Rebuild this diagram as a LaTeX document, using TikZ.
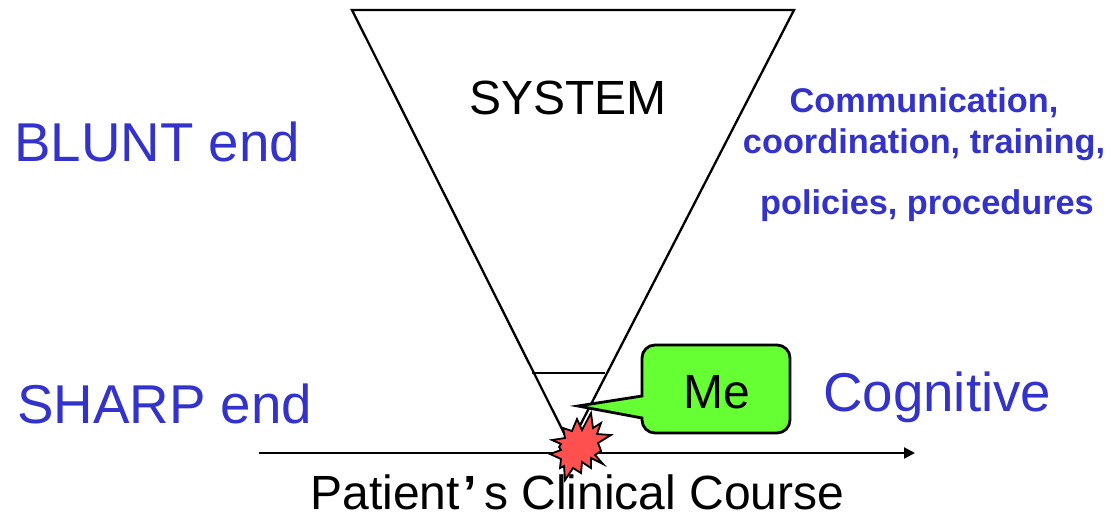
\documentclass[tikz,border=0pt]{standalone}
\usetikzlibrary{arrows.meta}
\usepackage{fontspec}
\setmainfont{Liberation Sans}
\definecolor{txtblue}{HTML}{3333CC}
\definecolor{megreen}{HTML}{66FF33}
\definecolor{starred}{HTML}{FF5050}
\tikzset{
  bluelabel/.style={text=txtblue,inner sep=0pt,font=\fontsize{54.7}{60}\selectfont},
  boldlabel/.style={text=txtblue,inner sep=0pt,font=\fontsize{34.3}{38}\bfseries\selectfont},
  blacklabel/.style={text=black,inner sep=0pt,font=\fontsize{48}{54}\selectfont},
  outline/.style={draw=black,line width=2.3pt,line join=miter},
}
\begin{document}
\begin{tikzpicture}[x=1pt,y=-1pt]
\useasboundingbox (0,0) rectangle (1107,512);
\fill[white] (0,0) rectangle (1107,512);
\coordinate (axisL) at (259,453);
\coordinate (axisR) at (915,453);
\coordinate (tl) at (352,10);
\coordinate (tr) at (794,10);
\coordinate (apex) at (570,445);
\coordinate (sl) at (532,373);
\coordinate (sr) at (605,373);
\draw[outline] (tl) -- (tr) -- (apex) -- cycle;
\draw[outline] (sl) -- (sr);
\draw[line width=2.3pt,-{Triangle[length=11pt,width=11pt]}] (axisL) -- (axisR);
\node[blacklabel,anchor=base] (pc) at (577.5,509) {Patient\hspace{4pt}{\bfseries ’}\hspace{7pt}s Clinical Course};
% callout
\draw[outline,line width=2.8pt,fill=megreen]
  (578,406) -- (642,396) [rounded corners=13pt] -- (642,345) -- (790,345) -- (790,433) -- (642,433) [sharp corners] -- (642,418) -- cycle;
% burst
\draw[draw=black,line width=1.8pt,fill=starred,line join=miter]
  (577,419) -- (582,430) -- (591,413) -- (593,428) -- (601,423) -- (597,434) -- (611,435)
  -- (598,443) -- (600,448) -- (601,451) -- (595,455) -- (603,464) -- (591,458) -- (591,468)
  -- (582,462) -- (581,473) -- (573,468) -- (565,480) -- (564,466) -- (560,468) -- (561,459)
  -- (550,454) -- (561,450) -- (559,447) -- (561,444) -- (552,440) -- (565,438) -- (563,428)
  -- (572,431) -- cycle;
\node[blacklabel,anchor=base] (sys) at (568,114) {SYSTEM};
\node[blacklabel,anchor=base] (me) at (717,408) {Me};
\node[bluelabel,anchor=base west] (blunt) at (14,161) {BLUNT end};
\node[bluelabel,anchor=base west] (sharp) at (17,423) {SHARP end};
\node[bluelabel,anchor=base west] (cog) at (823,411) {Cognitive};
\node[boldlabel,anchor=base] (c1) at (924,112) {Communication,};
\node[boldlabel,anchor=base] (c2) at (924,153) {coordination, training,};
\node[boldlabel,anchor=base] (c3) at (927,214) {policies, procedures};
\end{tikzpicture}
\end{document}
